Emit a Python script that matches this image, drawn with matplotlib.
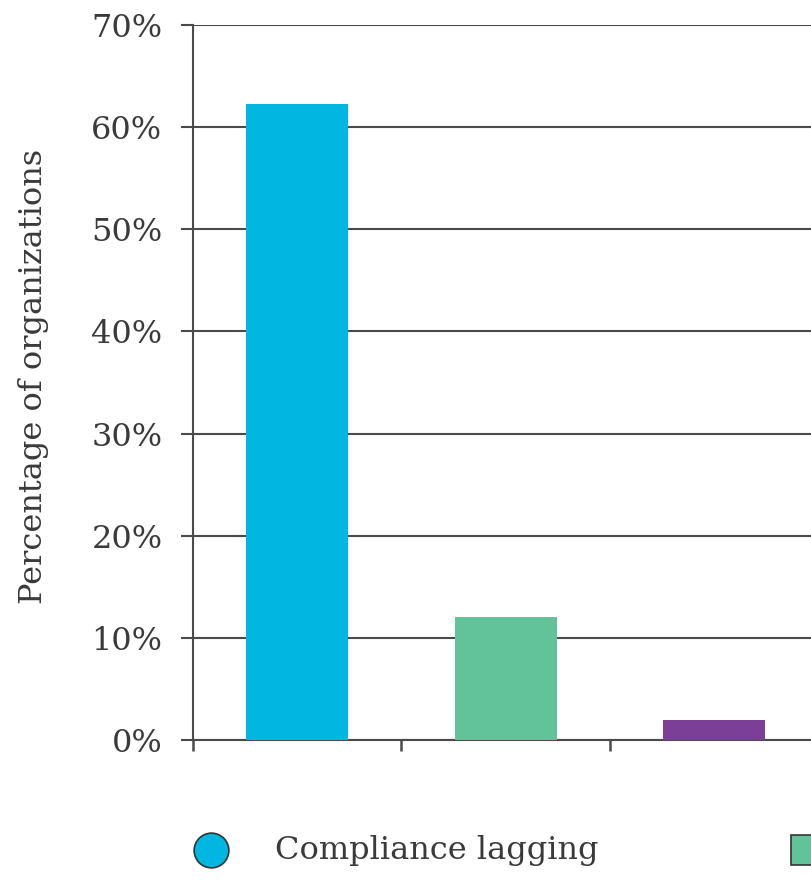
import matplotlib.pyplot as plt
from matplotlib.lines import Line2D

plt.rcParams['font.family'] = ['DejaVu Serif']

# values
categories = [0, 1, 2]
values = [62.3, 12, 2]
colors = ['#00B7E1', '#62C39B', '#7C3F97']
yticks = [0, 10, 20, 30, 40, 50, 60, 70]
ytick_labels = ['0%', '10%', '20%', '30%', '40%', '50%', '60%', '70%']
legend_label = 'Compliance lagging'

dark = '#4a4a4a'
txt = '#3a3a3a'

fig = plt.figure(figsize=(8.12, 8.89), dpi=100)
# axes runs past the right edge, like the cropped original
ax = fig.add_axes([193 / 812, 1 - 740 / 889, 625.5 / 812, 715 / 889])

ax.bar(categories, values, width=0.49, color=colors, zorder=3)

ax.set_xlim(-0.5, 2.5)
ax.set_ylim(0, 70)
ax.set_yticks(yticks)
ax.set_yticklabels(ytick_labels, fontsize=23, color=txt)
ax.set_xticks([-0.5, 0.5, 1.5, 2.5])
ax.set_xticklabels([])

ax.tick_params(axis='y', length=9, width=1.5, color=dark, pad=13)
ax.tick_params(axis='x', direction='out', length=8, width=1.8, color=dark)

ax.grid(axis='y', color=dark, linewidth=1.5, zorder=1)
ax.set_axisbelow(True)
for s in ['top', 'right']:
    ax.spines[s].set_visible(False)
for s in ['left', 'bottom']:
    ax.spines[s].set_color(dark)
    ax.spines[s].set_linewidth(1.5)

ax.set_ylabel('Percentage of organizations', fontsize=23, color=txt)
ax.yaxis.set_label_coords(-0.23, 0.508)

# legend row at the bottom
fig.add_artist(Line2D([211 / 812], [1 - 850 / 889], transform=fig.transFigure,
                      marker='o', markersize=25, markerfacecolor=colors[0],
                      markeredgecolor='#333333', markeredgewidth=1.2, linestyle='none'))
fig.text(275 / 812, 1 - 850 / 889, legend_label, fontsize=23, color=txt,
         va='center', ha='left')
fig.add_artist(Line2D([806 / 812], [1 - 850 / 889], transform=fig.transFigure,
                      marker='s', markersize=22, markerfacecolor=colors[1],
                      markeredgecolor='#333333', markeredgewidth=1.2, linestyle='none'))

fig.savefig('out.png', dpi=100)
